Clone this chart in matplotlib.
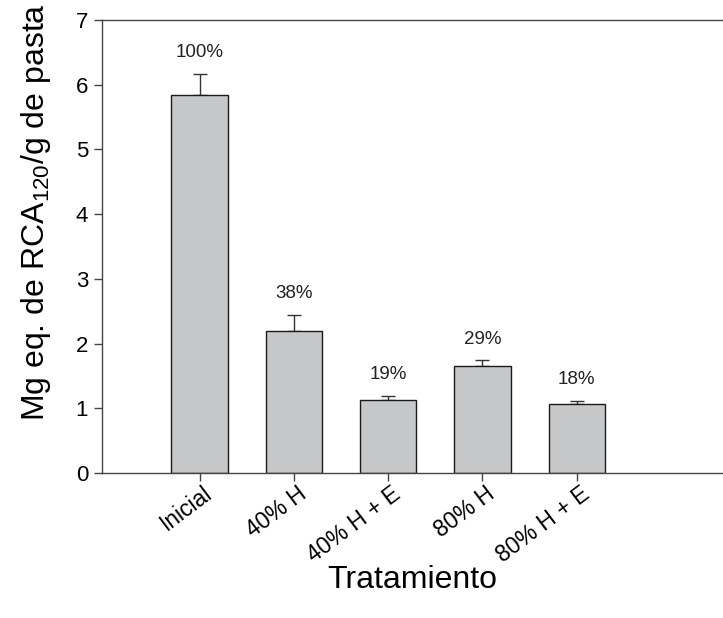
import numpy as np
import matplotlib
matplotlib.use('Agg')
import matplotlib.pyplot as plt
import matplotlib.transforms as mtransforms

plt.rcParams['font.family'] = ['Liberation Sans', 'DejaVu Sans']
plt.rcParams['mathtext.fontset'] = 'custom'
plt.rcParams['mathtext.rm'] = 'Liberation Sans'

# datos
tratamientos = ['Inicial', '40% H', '40% H + E', '80% H', '80% H + E']
medias = [5.84, 2.19, 1.13, 1.66, 1.07]
errores = [0.33, 0.25, 0.06, 0.08, 0.05]
porcentajes = ['100%', '38%', '19%', '29%', '18%']

fig = plt.figure(figsize=(7.23, 6.18), dpi=100)
ax = fig.add_axes([0.141, 0.2346, 0.859, 0.733])

x = np.arange(len(tratamientos))
ax.bar(x, medias, width=0.6, color='#c6c7c9', edgecolor='#1a1a1a', linewidth=1.0, zorder=2)
ax.errorbar(x, medias, yerr=[np.zeros(len(x)), errores], fmt='none',
            ecolor='#333333', elinewidth=1.0, capsize=5, capthick=1.0, zorder=1)

for xi, m, e, p in zip(x, medias, errores, porcentajes):
    ax.text(xi, m + e + 0.33, p, ha='center', va='center', fontsize=13.5, color='#222222')

ax.set_xlim(-1.035, 5.55)
ax.set_ylim(0, 7)
ax.set_yticks(range(8))
ax.set_xticks(x)
ax.tick_params(axis='y', labelsize=16, direction='out', length=6, width=1, color='#444444', pad=4)
ax.tick_params(axis='x', direction='out', length=6, width=1, color='#444444', pad=7)
ax.set_xticklabels(tratamientos, rotation=37, ha='right', va='center',
                   rotation_mode='anchor', fontsize=16.5)
# desplazar las etiquetas a la derecha como en el original
desplaza = mtransforms.ScaledTranslation(10 / 100, 0, fig.dpi_scale_trans)
for lab in ax.get_xticklabels():
    lab.set_transform(lab.get_transform() + desplaza)

for s in ['left', 'bottom', 'top']:
    ax.spines[s].set_color('#444444')
    ax.spines[s].set_linewidth(1.0)
ax.spines['right'].set_visible(False)

ax.set_ylabel(r'Mg eq. de RCA$_{120}$/g de pasta', fontsize=23)
ax.yaxis.set_label_coords(-0.079, 0.576)
ax.set_xlabel('Tratamiento', fontsize=23)
ax.xaxis.set_label_coords(0.5, -0.203)

fig.savefig('out.png', dpi=100)
